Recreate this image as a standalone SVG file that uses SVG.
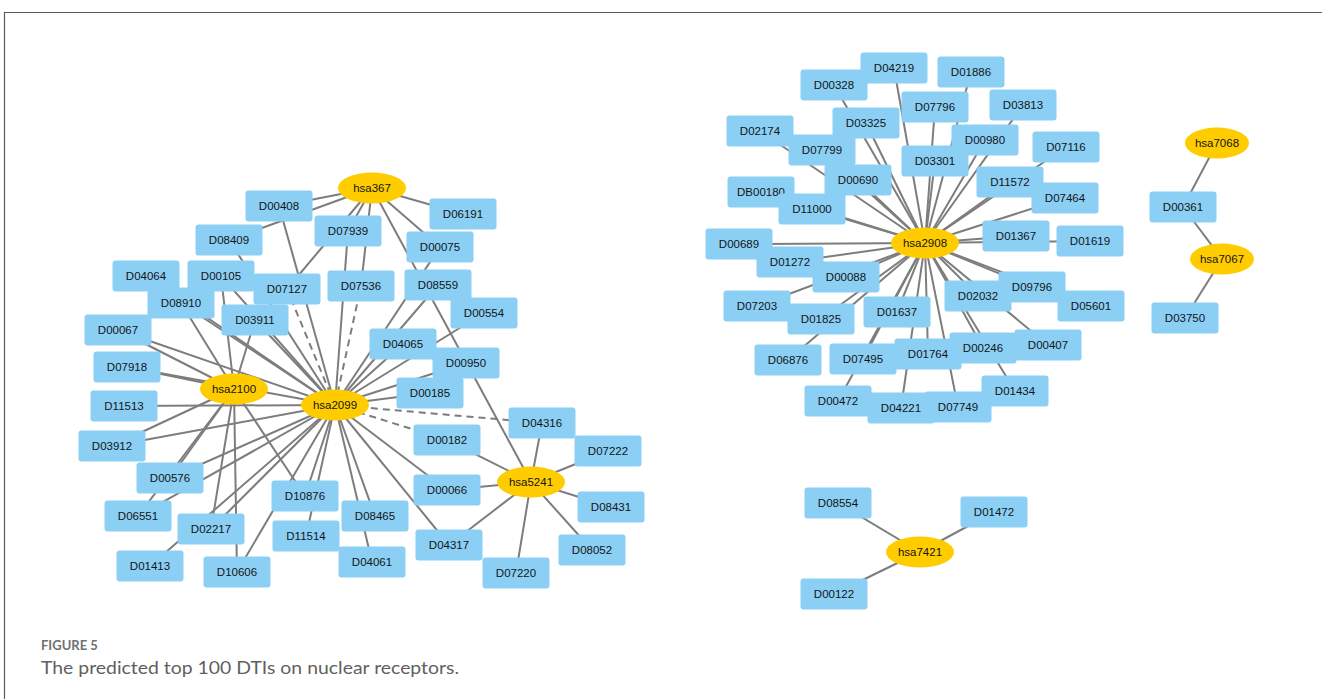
<svg xmlns="http://www.w3.org/2000/svg" xmlns:xlink="http://www.w3.org/1999/xlink" width="1322" height="699" viewBox="0 0 1322 699">
  <style>
    .bg { fill: #ffffff; }
    .frame { stroke: #5a5a5a; stroke-width: 1.2; fill: none; }
    .drug { fill: #8BD0F4; }
    .gene { fill: #FFCC00; }
    .lbl { font-family: "Liberation Sans", Arial, sans-serif; font-size: 11.5px; fill: #141414; text-anchor: middle; dominant-baseline: central; }
    .edges line { stroke: #7d7d7d; stroke-width: 2; }
    .edges line.pred { stroke-dasharray: 7 5; }
    .figno { font-family: Lato, "Open Sans", sans-serif; font-size: 13px; font-weight: 700; fill: #707070; }
    .caption { font-family: Lato, "Open Sans", sans-serif; font-size: 17px; fill: #5f5f5f; }
  </style>
  <defs>
    <rect id="box" class="drug" x="-33.5" y="-15.5" width="67" height="31" rx="3"/>
    <ellipse id="oval" class="gene" cx="0" cy="0" rx="34" ry="15.5"/>
    <ellipse id="ovalS" class="gene" cx="0" cy="0" rx="32" ry="15.5"/>
  </defs>

  <rect class="bg" x="0" y="0" width="1322" height="699"/>
  <path class="frame" d="M4.5,699 V12.5 H1322"/>

  <!-- interactions -->
  <g id="connectors" class="edges">
    <!-- hsa367 -->
    <line x1="372" y1="188" x2="279" y2="206"/>
    <line x1="372" y1="188" x2="229" y2="240"/>
    <line x1="372" y1="188" x2="287" y2="289"/>
    <line x1="372" y1="188" x2="348" y2="231"/>
    <line x1="372" y1="188" x2="361" y2="286"/>
    <line x1="372" y1="188" x2="463" y2="214"/>
    <line x1="372" y1="188" x2="440" y2="247"/>
    <line x1="372" y1="188" x2="531" y2="482"/>
    <!-- hsa2099 -->
    <line x1="335" y1="405" x2="279" y2="206"/>
    <line class="pred" x1="335" y1="405" x2="287" y2="289"/>
    <line x1="335" y1="405" x2="348" y2="231"/>
    <line class="pred" x1="335" y1="405" x2="361" y2="286"/>
    <line x1="335" y1="405" x2="229" y2="240"/>
    <line x1="335" y1="405" x2="221" y2="276"/>
    <line x1="335" y1="405" x2="255" y2="320"/>
    <line x1="335" y1="405" x2="181" y2="303"/>
    <line x1="335" y1="405" x2="146" y2="276"/>
    <line x1="335" y1="405" x2="118" y2="330"/>
    <line x1="335" y1="405" x2="127" y2="367"/>
    <line x1="335" y1="405" x2="440" y2="247"/>
    <line x1="335" y1="405" x2="438" y2="285"/>
    <line x1="335" y1="405" x2="484" y2="313"/>
    <line x1="335" y1="405" x2="403" y2="344"/>
    <line x1="335" y1="405" x2="466" y2="363"/>
    <line x1="335" y1="405" x2="430" y2="393"/>
    <line class="pred" x1="335" y1="405" x2="542" y2="423"/>
    <line class="pred" x1="335" y1="405" x2="447" y2="440"/>
    <line x1="335" y1="405" x2="447" y2="490"/>
    <line x1="335" y1="405" x2="449" y2="545"/>
    <line x1="335" y1="405" x2="375" y2="516"/>
    <line x1="335" y1="405" x2="372" y2="562"/>
    <line x1="335" y1="405" x2="306" y2="536"/>
    <line x1="335" y1="405" x2="305" y2="496"/>
    <line x1="335" y1="405" x2="237" y2="572"/>
    <line x1="335" y1="405" x2="211" y2="529"/>
    <line x1="335" y1="405" x2="150" y2="566"/>
    <line x1="335" y1="405" x2="138" y2="516"/>
    <line x1="335" y1="405" x2="170" y2="478"/>
    <line x1="335" y1="405" x2="112" y2="446"/>
    <line x1="335" y1="405" x2="124" y2="406"/>
    <!-- hsa2100 -->
    <line x1="234" y1="389" x2="127" y2="367"/>
    <line x1="234" y1="389" x2="118" y2="330"/>
    <line x1="234" y1="389" x2="181" y2="303"/>
    <line x1="234" y1="389" x2="221" y2="276"/>
    <line x1="234" y1="389" x2="255" y2="320"/>
    <line x1="234" y1="389" x2="112" y2="446"/>
    <line x1="234" y1="389" x2="170" y2="478"/>
    <line x1="234" y1="389" x2="138" y2="516"/>
    <line x1="234" y1="389" x2="211" y2="529"/>
    <line x1="234" y1="389" x2="237" y2="572"/>
    <line x1="234" y1="389" x2="305" y2="496"/>
    <!-- hsa5241 -->
    <line x1="531" y1="482" x2="542" y2="423"/>
    <line x1="531" y1="482" x2="608" y2="451"/>
    <line x1="531" y1="482" x2="611" y2="507"/>
    <line x1="531" y1="482" x2="592" y2="550"/>
    <line x1="531" y1="482" x2="516" y2="573"/>
    <line x1="531" y1="482" x2="449" y2="545"/>
    <line x1="531" y1="482" x2="447" y2="490"/>
    <line x1="531" y1="482" x2="447" y2="440"/>
    <!-- hsa2908 -->
    <line x1="925" y1="243" x2="894" y2="68"/>
    <line x1="925" y1="243" x2="834" y2="85"/>
    <line x1="925" y1="243" x2="971" y2="72"/>
    <line x1="925" y1="243" x2="935" y2="107"/>
    <line x1="925" y1="243" x2="1023" y2="105"/>
    <line x1="925" y1="243" x2="760" y2="131"/>
    <line x1="925" y1="243" x2="866" y2="123"/>
    <line x1="925" y1="243" x2="822" y2="150"/>
    <line x1="925" y1="243" x2="985" y2="140"/>
    <line x1="925" y1="243" x2="1066" y2="147"/>
    <line x1="925" y1="243" x2="935" y2="161"/>
    <line x1="925" y1="243" x2="858" y2="180"/>
    <line x1="925" y1="243" x2="761" y2="192"/>
    <line x1="925" y1="243" x2="812" y2="209"/>
    <line x1="925" y1="243" x2="1010" y2="182"/>
    <line x1="925" y1="243" x2="1065" y2="198"/>
    <line x1="925" y1="243" x2="1016" y2="236"/>
    <line x1="925" y1="243" x2="1090" y2="241"/>
    <line x1="925" y1="243" x2="739" y2="244"/>
    <line x1="925" y1="243" x2="790" y2="262"/>
    <line x1="925" y1="243" x2="846" y2="277"/>
    <line x1="925" y1="243" x2="757" y2="306"/>
    <line x1="925" y1="243" x2="821" y2="319"/>
    <line x1="925" y1="243" x2="897" y2="312"/>
    <line x1="925" y1="243" x2="788" y2="360"/>
    <line x1="925" y1="243" x2="863" y2="359"/>
    <line x1="925" y1="243" x2="928" y2="354"/>
    <line x1="925" y1="243" x2="838" y2="401"/>
    <line x1="925" y1="243" x2="901" y2="408"/>
    <line x1="925" y1="243" x2="958" y2="407"/>
    <line x1="925" y1="243" x2="1015" y2="391"/>
    <line x1="925" y1="243" x2="978" y2="296"/>
    <line x1="925" y1="243" x2="1032" y2="287"/>
    <line x1="925" y1="243" x2="1091" y2="306"/>
    <line x1="925" y1="243" x2="983" y2="348"/>
    <line x1="925" y1="243" x2="1048" y2="345"/>
    <!-- hsa7068 / hsa7067 -->
    <line x1="1217" y1="143" x2="1183" y2="207"/>
    <line x1="1183" y1="207" x2="1222" y2="259"/>
    <line x1="1222" y1="259" x2="1185" y2="318"/>
    <!-- hsa7421 -->
    <line x1="920" y1="552" x2="838" y2="503"/>
    <line x1="920" y1="552" x2="994" y2="512"/>
    <line x1="920" y1="552" x2="834" y2="594"/>
  </g>

  <!-- left component -->
  <g id="n-D00408" transform="translate(279,206)"><use xlink:href="#box"/><text class="lbl">D00408</text></g>
  <g id="n-D08409" transform="translate(229,240)"><use xlink:href="#box"/><text class="lbl">D08409</text></g>
  <g id="n-D04064" transform="translate(146,276)"><use xlink:href="#box"/><text class="lbl">D04064</text></g>
  <g id="n-D00105" transform="translate(221,276)"><use xlink:href="#box"/><text class="lbl">D00105</text></g>
  <g id="n-D07127" transform="translate(287,289)"><use xlink:href="#box"/><text class="lbl">D07127</text></g>
  <g id="n-D08910" transform="translate(181,303)"><use xlink:href="#box"/><text class="lbl">D08910</text></g>
  <g id="n-D03911" transform="translate(255,320)"><use xlink:href="#box"/><text class="lbl">D03911</text></g>
  <g id="n-D00067" transform="translate(118,330)"><use xlink:href="#box"/><text class="lbl">D00067</text></g>
  <g id="n-D07918" transform="translate(127,367)"><use xlink:href="#box"/><text class="lbl">D07918</text></g>
  <g id="n-D07939" transform="translate(348,231)"><use xlink:href="#box"/><text class="lbl">D07939</text></g>
  <g id="n-D06191" transform="translate(463,214)"><use xlink:href="#box"/><text class="lbl">D06191</text></g>
  <g id="n-D00075" transform="translate(440,247)"><use xlink:href="#box"/><text class="lbl">D00075</text></g>
  <g id="n-D07536" transform="translate(361,286)"><use xlink:href="#box"/><text class="lbl">D07536</text></g>
  <g id="n-D08559" transform="translate(438,285)"><use xlink:href="#box"/><text class="lbl">D08559</text></g>
  <g id="n-D00554" transform="translate(484,313)"><use xlink:href="#box"/><text class="lbl">D00554</text></g>
  <g id="n-D04065" transform="translate(403,344)"><use xlink:href="#box"/><text class="lbl">D04065</text></g>
  <g id="n-D00950" transform="translate(466,363)"><use xlink:href="#box"/><text class="lbl">D00950</text></g>
  <g id="n-D00185" transform="translate(430,393)"><use xlink:href="#box"/><text class="lbl">D00185</text></g>
  <g id="n-D11513" transform="translate(124,406)"><use xlink:href="#box"/><text class="lbl">D11513</text></g>
  <g id="n-D03912" transform="translate(112,446)"><use xlink:href="#box"/><text class="lbl">D03912</text></g>
  <g id="n-D00576" transform="translate(170,478)"><use xlink:href="#box"/><text class="lbl">D00576</text></g>
  <g id="n-D06551" transform="translate(138,516)"><use xlink:href="#box"/><text class="lbl">D06551</text></g>
  <g id="n-D02217" transform="translate(211,529)"><use xlink:href="#box"/><text class="lbl">D02217</text></g>
  <g id="n-D01413" transform="translate(150,566)"><use xlink:href="#box"/><text class="lbl">D01413</text></g>
  <g id="n-D10606" transform="translate(237,572)"><use xlink:href="#box"/><text class="lbl">D10606</text></g>
  <g id="n-D10876" transform="translate(305,496)"><use xlink:href="#box"/><text class="lbl">D10876</text></g>
  <g id="n-D11514" transform="translate(306,536)"><use xlink:href="#box"/><text class="lbl">D11514</text></g>
  <g id="n-D08465" transform="translate(375,516)"><use xlink:href="#box"/><text class="lbl">D08465</text></g>
  <g id="n-D04061" transform="translate(372,562)"><use xlink:href="#box"/><text class="lbl">D04061</text></g>
  <g id="n-D00182" transform="translate(447,440)"><use xlink:href="#box"/><text class="lbl">D00182</text></g>
  <g id="n-D04316" transform="translate(542,423)"><use xlink:href="#box"/><text class="lbl">D04316</text></g>
  <g id="n-D07222" transform="translate(608,451)"><use xlink:href="#box"/><text class="lbl">D07222</text></g>
  <g id="n-D00066" transform="translate(447,490)"><use xlink:href="#box"/><text class="lbl">D00066</text></g>
  <g id="n-D08431" transform="translate(611,507)"><use xlink:href="#box"/><text class="lbl">D08431</text></g>
  <g id="n-D04317" transform="translate(449,545)"><use xlink:href="#box"/><text class="lbl">D04317</text></g>
  <g id="n-D08052" transform="translate(592,550)"><use xlink:href="#box"/><text class="lbl">D08052</text></g>
  <g id="n-D07220" transform="translate(516,573)"><use xlink:href="#box"/><text class="lbl">D07220</text></g>
  <g id="n-hsa367" transform="translate(372,188)"><use xlink:href="#oval"/><text class="lbl">hsa367</text></g>
  <g id="n-hsa2100" transform="translate(234,389)"><use xlink:href="#oval"/><text class="lbl">hsa2100</text></g>
  <g id="n-hsa2099" transform="translate(335,405)"><use xlink:href="#oval"/><text class="lbl">hsa2099</text></g>
  <g id="n-hsa5241" transform="translate(531,482)"><use xlink:href="#oval"/><text class="lbl">hsa5241</text></g>

  <!-- hsa2908 component -->
  <g id="n-D04219" transform="translate(894,68)"><use xlink:href="#box"/><text class="lbl">D04219</text></g>
  <g id="n-D00328" transform="translate(834,85)"><use xlink:href="#box"/><text class="lbl">D00328</text></g>
  <g id="n-D01886" transform="translate(971,72)"><use xlink:href="#box"/><text class="lbl">D01886</text></g>
  <g id="n-D07796" transform="translate(935,107)"><use xlink:href="#box"/><text class="lbl">D07796</text></g>
  <g id="n-D03813" transform="translate(1023,105)"><use xlink:href="#box"/><text class="lbl">D03813</text></g>
  <g id="n-D02174" transform="translate(760,131)"><use xlink:href="#box"/><text class="lbl">D02174</text></g>
  <g id="n-D03325" transform="translate(866,123)"><use xlink:href="#box"/><text class="lbl">D03325</text></g>
  <g id="n-D07799" transform="translate(822,150)"><use xlink:href="#box"/><text class="lbl">D07799</text></g>
  <g id="n-D00980" transform="translate(985,140)"><use xlink:href="#box"/><text class="lbl">D00980</text></g>
  <g id="n-D07116" transform="translate(1066,147)"><use xlink:href="#box"/><text class="lbl">D07116</text></g>
  <g id="n-D03301" transform="translate(935,161)"><use xlink:href="#box"/><text class="lbl">D03301</text></g>
  <g id="n-D00690" transform="translate(858,180)"><use xlink:href="#box"/><text class="lbl">D00690</text></g>
  <g id="n-DB00180" transform="translate(761,192)"><use xlink:href="#box"/><text class="lbl">DB00180</text></g>
  <g id="n-D11000" transform="translate(812,209)"><use xlink:href="#box"/><text class="lbl">D11000</text></g>
  <g id="n-D11572" transform="translate(1010,182)"><use xlink:href="#box"/><text class="lbl">D11572</text></g>
  <g id="n-D07464" transform="translate(1065,198)"><use xlink:href="#box"/><text class="lbl">D07464</text></g>
  <g id="n-D01367" transform="translate(1016,236)"><use xlink:href="#box"/><text class="lbl">D01367</text></g>
  <g id="n-D01619" transform="translate(1090,241)"><use xlink:href="#box"/><text class="lbl">D01619</text></g>
  <g id="n-D00689" transform="translate(739,244)"><use xlink:href="#box"/><text class="lbl">D00689</text></g>
  <g id="n-D01272" transform="translate(790,262)"><use xlink:href="#box"/><text class="lbl">D01272</text></g>
  <g id="n-D00088" transform="translate(846,277)"><use xlink:href="#box"/><text class="lbl">D00088</text></g>
  <g id="n-D07203" transform="translate(757,306)"><use xlink:href="#box"/><text class="lbl">D07203</text></g>
  <g id="n-D01825" transform="translate(821,319)"><use xlink:href="#box"/><text class="lbl">D01825</text></g>
  <g id="n-D01637" transform="translate(897,312)"><use xlink:href="#box"/><text class="lbl">D01637</text></g>
  <g id="n-D06876" transform="translate(788,360)"><use xlink:href="#box"/><text class="lbl">D06876</text></g>
  <g id="n-D07495" transform="translate(863,359)"><use xlink:href="#box"/><text class="lbl">D07495</text></g>
  <g id="n-D02032" transform="translate(978,296)"><use xlink:href="#box"/><text class="lbl">D02032</text></g>
  <g id="n-D09796" transform="translate(1032,287)"><use xlink:href="#box"/><text class="lbl">D09796</text></g>
  <g id="n-D05601" transform="translate(1091,306)"><use xlink:href="#box"/><text class="lbl">D05601</text></g>
  <g id="n-D01764" transform="translate(928,354)"><use xlink:href="#box"/><text class="lbl">D01764</text></g>
  <g id="n-D00246" transform="translate(983,348)"><use xlink:href="#box"/><text class="lbl">D00246</text></g>
  <g id="n-D00407" transform="translate(1048,345)"><use xlink:href="#box"/><text class="lbl">D00407</text></g>
  <g id="n-D00472" transform="translate(838,401)"><use xlink:href="#box"/><text class="lbl">D00472</text></g>
  <g id="n-D01434" transform="translate(1015,391)"><use xlink:href="#box"/><text class="lbl">D01434</text></g>
  <g id="n-D04221" transform="translate(901,408)"><use xlink:href="#box"/><text class="lbl">D04221</text></g>
  <g id="n-D07749" transform="translate(958,407)"><use xlink:href="#box"/><text class="lbl">D07749</text></g>
  <g id="n-hsa2908" transform="translate(925,243)"><use xlink:href="#oval"/><text class="lbl">hsa2908</text></g>

  <!-- hsa7068 / hsa7067 component -->
  <g id="n-D00361" transform="translate(1183,207)"><use xlink:href="#box"/><text class="lbl">D00361</text></g>
  <g id="n-D03750" transform="translate(1185,318)"><use xlink:href="#box"/><text class="lbl">D03750</text></g>
  <g id="n-hsa7068" transform="translate(1217,143)"><use xlink:href="#ovalS"/><text class="lbl">hsa7068</text></g>
  <g id="n-hsa7067" transform="translate(1222,259)"><use xlink:href="#ovalS"/><text class="lbl">hsa7067</text></g>

  <!-- hsa7421 component -->
  <g id="n-D08554" transform="translate(838,503)"><use xlink:href="#box"/><text class="lbl">D08554</text></g>
  <g id="n-D01472" transform="translate(994,512)"><use xlink:href="#box"/><text class="lbl">D01472</text></g>
  <g id="n-D00122" transform="translate(834,594)"><use xlink:href="#box"/><text class="lbl">D00122</text></g>
  <g id="n-hsa7421" transform="translate(920,552)"><use xlink:href="#oval"/><text class="lbl">hsa7421</text></g>

  <!-- caption -->
  <text class="figno" x="41" y="650">FIGURE 5</text>
  <text class="caption" x="41" y="674" textLength="418" lengthAdjust="spacingAndGlyphs">The predicted top 100 DTIs on nuclear receptors.</text>
</svg>
